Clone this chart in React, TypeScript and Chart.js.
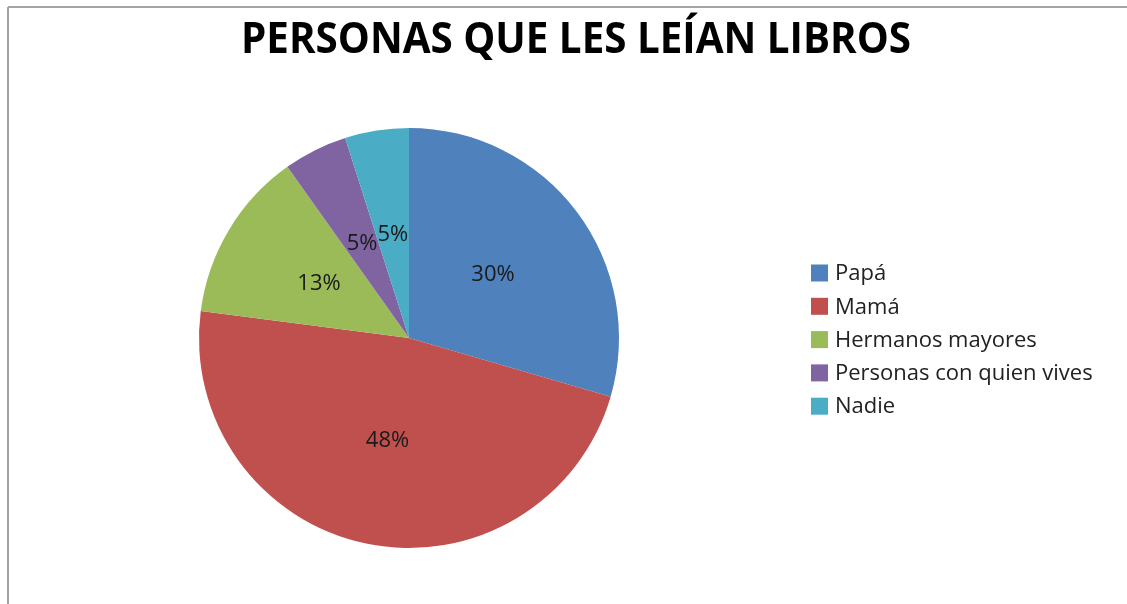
import React, { useEffect, useRef } from "react";
import { Chart, registerables } from "chart.js";

Chart.register(...registerables);

const TITLE = "PERSONAS QUE LES LEÍAN LIBROS";
const categories = ["Papá", "Mamá", "Hermanos mayores", "Personas con quien vives", "Nadie"];
const counts = [18, 29, 8, 3, 3];
const colors = ["#4F81BD", "#C0504D", "#9BBB59", "#8064A2", "#4BACC6"];

const W = 1127;
const H = 604;

const decorPlugin = {
  id: "decor",
  afterDraw(chart: any) {
    const ctx = chart.ctx as CanvasRenderingContext2D;
    ctx.save();
    // frame lines
    ctx.strokeStyle = "#a3a3a3";
    ctx.lineWidth = 2;
    ctx.beginPath();
    ctx.moveTo(8, 7);
    ctx.lineTo(W, 7);
    ctx.moveTo(8, 7);
    ctx.lineTo(8, H);
    ctx.stroke();

    // title
    ctx.fillStyle = "#000";
    ctx.font = "bold 43px 'Open Sans', sans-serif";
    ctx.textBaseline = "alphabetic";
    ctx.textAlign = "left";
    const tw = ctx.measureText(TITLE).width;
    const targetW = 670;
    const sx = targetW / tw;
    ctx.save();
    ctx.translate(576 - targetW / 2, 53);
    ctx.scale(sx, 1);
    ctx.fillText(TITLE, 0, 0);
    ctx.restore();

    // data labels
    const meta = chart.getDatasetMeta(0);
    const data = chart.data.datasets[0].data as number[];
    const total = data.reduce((a, b) => a + b, 0);
    ctx.font = "22px 'Open Sans', sans-serif";
    ctx.fillStyle = "#1a1a1a";
    ctx.textAlign = "center";
    ctx.textBaseline = "middle";
    meta.data.forEach((el: any, i: number) => {
      const p = el.tooltipPosition();
      const pct = Math.round((data[i] / total) * 100) + "%";
      ctx.fillText(pct, p.x, p.y);
    });

    // legend
    ctx.font = "22px 'Open Sans', sans-serif";
    ctx.textAlign = "left";
    ctx.textBaseline = "middle";
    const rowH = 33.3;
    const y0 = 273;
    categories.forEach((c, i) => {
      const y = y0 + i * rowH;
      ctx.fillStyle = colors[i];
      ctx.fillRect(811, y - 8.5, 17, 17);
      ctx.fillStyle = "#222";
      ctx.fillText(c, 835, y + 1);
    });
    ctx.restore();
  },
};

export default function App() {
  const ref = useRef<HTMLCanvasElement | null>(null);
  useEffect(() => {
    document.body.style.margin = "0";
    if (!ref.current) return;
    const chart = new Chart(ref.current, {
      type: "pie",
      data: {
        labels: categories,
        datasets: [
          {
            data: counts,
            backgroundColor: colors,
            borderWidth: 0,
          },
        ],
      },
      options: {
        responsive: false,
        animation: false,
        devicePixelRatio: 1,
        layout: { padding: { left: 199, right: W - 619, top: 128, bottom: H - 548 } },
        plugins: {
          legend: { display: false },
          title: { display: false },
          tooltip: { enabled: false },
        },
      },
      plugins: [decorPlugin],
    });
    return () => chart.destroy();
  }, []);
  return (
    <div style={{ position: "absolute", left: 0, top: 0, width: W, height: H, background: "#fff" }}>
      <canvas ref={ref} width={W} height={H} style={{ width: W, height: H, display: "block" }} />
    </div>
  );
}
